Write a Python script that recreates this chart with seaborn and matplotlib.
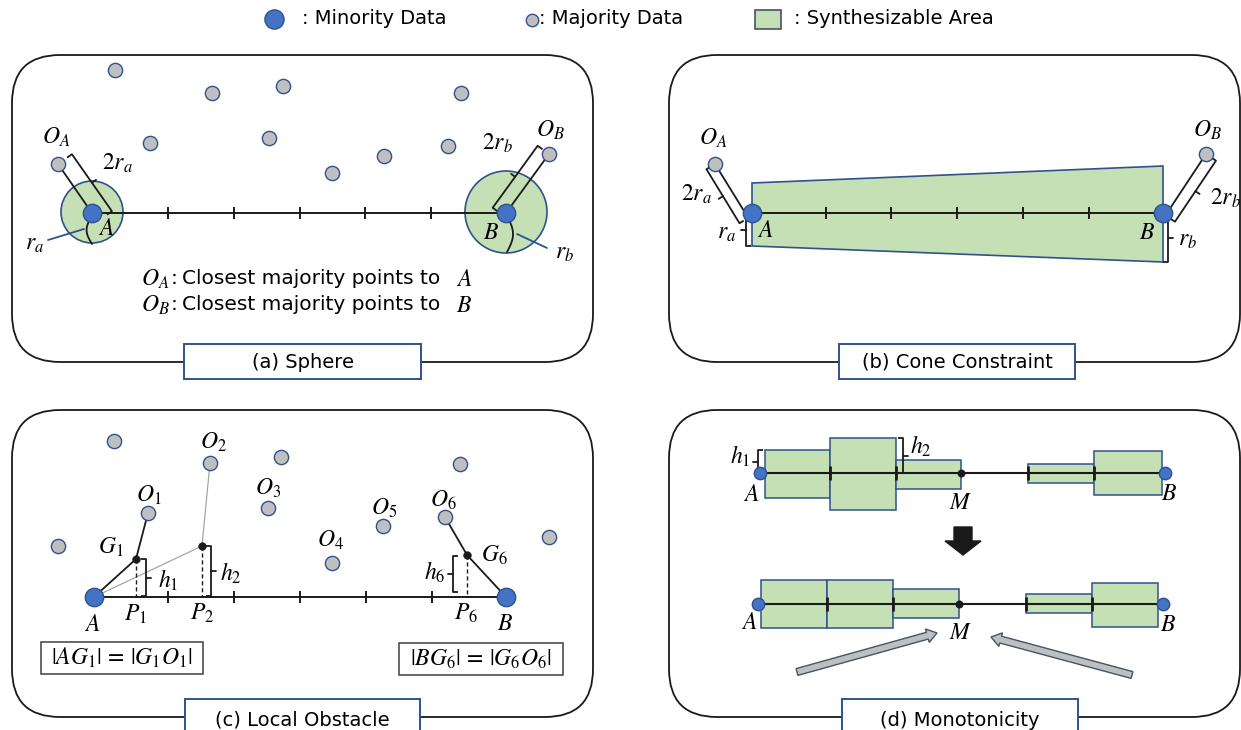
import numpy as np
import pandas as pd
import seaborn as sns
import matplotlib.pyplot as plt
from matplotlib.patches import FancyBboxPatch, Rectangle, Circle, Polygon, FancyArrow

# ---- values (pixel coords, y grows downward) ----
legend_labels = [': Minority Data', ': Majority Data', ': Synthesizable Area']
panel_titles = ['(a) Sphere', '(b) Cone Constraint', '(c) Local Obstacle', '(d) Monotonicity']

# (a) sphere
maj_a_x = [115, 212, 283, 461, 150, 269, 58, 332, 384, 448, 549]
maj_a_y = [70, 93, 86, 93, 143, 138, 164, 173, 156, 146, 154]
min_a_x = [92, 506]
min_a_y = [213, 213]
sphere_r = [31, 41]
ticks_a = [168, 234, 300, 365, 431]

# (b) cone constraint
maj_b_x = [715, 1206]
maj_b_y = [164, 154]
min_b_x = [752, 1163]
min_b_y = [213, 213]
cone_top = [183, 166]
cone_bot = [246, 262]
ticks_b = [826, 891, 957, 1023, 1089]

# (c) local obstacle
maj_c_x = [114, 210, 281, 460, 58, 148, 268, 332, 383, 445, 549]
maj_c_y = [441, 463, 457, 464, 546, 513, 508, 563, 526, 517, 537]
min_c_x = [94, 506]
min_c_y = [597, 597]
g_x = [136, 202, 467]
g_y = [559, 546, 555]
ticks_c = [168, 234, 300, 366, 432]

# (d) monotonicity: segment edges and box extent above / below the line
edges_before = [765, 830, 896, 961, 1028, 1094, 1162]
up_before = [23, 35, 13, 0, 9, 22]
down_before = [25, 37, 16, 0, 10, 22]
edges_after = [761, 827, 893, 959, 1026, 1092, 1158]
up_after = [24, 24, 15, 0, 10, 21]
down_after = [24, 24, 14, 0, 9, 23]

GREEN = '#C5E0B4'
EDGE = '#2F528F'
BLUE = '#4472C4'
GRAY = '#BFBFBF'
MS = 17  # math label size

sns.set_theme(style='white')
plt.rcParams['font.family'] = ['DejaVu Sans']
plt.rcParams['mathtext.fontset'] = 'stix'
plt.rcParams['text.color'] = 'black'

fig = plt.figure(figsize=(12.41, 7.30), dpi=100)
ax = fig.add_axes([0, 0, 1, 1])
ax.set_xlim(0, 1241)
ax.set_ylim(730, 0)
ax.axis('off')


def txt(x, y, s, size=14, **kw):
    ax.text(x, y, s, fontsize=size, ha=kw.pop('ha', 'center'), va=kw.pop('va', 'center'),
            color='black', **kw)


def majority(xs, ys, s=105):
    df = pd.DataFrame({'x': xs, 'y': ys})
    sns.scatterplot(data=df, x='x', y='y', s=s, color=GRAY, edgecolor=EDGE,
                    linewidth=1, ax=ax, zorder=5, legend=False)


def minority(xs, ys, s=175):
    df = pd.DataFrame({'x': xs, 'y': ys})
    sns.scatterplot(data=df, x='x', y='y', s=s, color=BLUE, edgecolor=EDGE,
                    linewidth=1, ax=ax, zorder=6, legend=False)


def bracket(p0, p1, off, cap=5, tick=5, lw=1.3):
    p0 = np.asarray(p0, float)
    p1 = np.asarray(p1, float)
    u = (p1 - p0) / np.hypot(*(p1 - p0))
    n = np.array([-u[1], u[0]])
    s = np.sign(off)
    q0, q1 = p0 + n * off, p1 + n * off
    c0, c1 = q0 - n * s * cap, q1 - n * s * cap
    m = (q0 + q1) / 2
    t = m + n * s * tick
    ax.plot([c0[0], q0[0], q1[0], c1[0]], [c0[1], q0[1], q1[1], c1[1]],
            color='k', lw=lw, zorder=4, solid_capstyle='butt')
    ax.plot([m[0], t[0]], [m[1], t[1]], color='k', lw=lw, zorder=4)


def panel(x0, y0, x1, y1, title, bx0, bx1, by0, by1):
    ax.add_patch(FancyBboxPatch((x0, y0), x1 - x0, y1 - y0,
                                boxstyle='round,pad=0,rounding_size=48',
                                fc='none', ec='k', lw=1.3, zorder=1))
    ax.add_patch(Rectangle((bx0, by0), bx1 - bx0, by1 - by0,
                           fc='white', ec=EDGE, lw=1.4, zorder=2))
    txt((bx0 + bx1) / 2, (by0 + by1) / 2 + 1, title, size=14, zorder=3)


def axis_line(x0, x1, y, ticks, lw=1.4, th=6):
    ax.plot([x0, x1], [y, y], color='k', lw=lw, zorder=3)
    ax.vlines(ticks, y - th, y + th, color='k', lw=lw, zorder=3)


# ---------------- legend ----------------
minority([274], [19], s=190)
txt(302, 19, legend_labels[0], ha='left')
majority([532], [20], s=80)
txt(539, 19, legend_labels[1], ha='left')
ax.add_patch(Rectangle((755, 10), 26, 19, fc=GREEN, ec='#44546A', lw=1.2))
txt(794, 19, legend_labels[2], ha='left')

# ---------------- (a) Sphere ----------------
panel(12, 55, 593, 362, panel_titles[0], 184, 421, 344, 379)
for cx, cy, r in zip(min_a_x, min_a_y, sphere_r):
    ax.add_patch(Circle((cx, cy - 1), r, fc=GREEN, ec=EDGE, lw=1.2, zorder=2))
axis_line(min_a_x[0], min_a_x[1], min_a_y[0], ticks_a)
ax.plot([maj_a_x[6], min_a_x[0]], [maj_a_y[6], min_a_y[0]], color='k', lw=1.3, zorder=3)
ax.plot([maj_a_x[10], min_a_x[1]], [maj_a_y[10], min_a_y[1]], color='k', lw=1.3, zorder=3)
bracket((maj_a_x[6], maj_a_y[6]), (min_a_x[0] + 6, min_a_y[0] + 8), -17, cap=6)
bracket((maj_a_x[10], maj_a_y[10]), (min_a_x[1] - 2, min_a_y[1] + 3), 14, cap=6)
# radius arcs
tt = np.linspace(0, 1, 30)
ax.plot(92 - 9 * np.sin(np.pi * tt) * 0.6, 216 + 28 * tt, color='k', lw=1.3, zorder=4)
ax.plot(507 + 10 * np.sin(np.pi * tt) * 0.6, 216 + 36 * tt, color='k', lw=1.3, zorder=4)
ax.plot([48, 84], [240, 229], color=EDGE, lw=1.3, zorder=4)
ax.plot([517, 547], [234, 248], color=EDGE, lw=1.3, zorder=4)
majority(maj_a_x, maj_a_y)
minority(min_a_x, min_a_y)
txt(56, 137, r'$O_A$', size=MS)
txt(117, 163, r'$2r_a$', size=MS)
txt(550, 130, r'$O_B$', size=MS)
txt(497, 143, r'$2r_b$', size=MS)
txt(35, 243, r'$r_a$', size=MS)
txt(565, 252, r'$r_b$', size=MS)
txt(106, 228, r'$A$', size=MS)
txt(491, 232, r'$B$', size=MS)
for yy, p in [(279, 'A'), (305, 'B')]:
    txt(141, yy, r'$O_%s$' % p, size=MS, ha='left')
    txt(171, yy, ':', size=14.5, ha='left')
    txt(182, yy, 'Closest majority points to', size=14.5, ha='left')
    txt(456, yy, r'$%s$' % p, size=MS, ha='left')

# ---------------- (b) Cone Constraint ----------------
panel(669, 55, 1240, 362, panel_titles[1], 839, 1075, 344, 379)
ax.add_patch(Polygon([(min_b_x[0], cone_top[0]), (min_b_x[1], cone_top[1]),
                      (min_b_x[1], cone_bot[1]), (min_b_x[0], cone_bot[0])],
                     closed=True, fc=GREEN, ec=EDGE, lw=1.2, zorder=2))
axis_line(min_b_x[0], min_b_x[1], min_b_y[0], ticks_b)
ax.plot([maj_b_x[0], 744], [maj_b_y[0], 211], color='k', lw=1.3, zorder=3)
ax.plot([maj_b_x[1], 1169], [maj_b_y[1], 210], color='k', lw=1.3, zorder=3)
bracket((maj_b_x[0], maj_b_y[0]), (748, 218), 10, cap=5)
bracket((maj_b_x[1], maj_b_y[1]), (1165, 215), -12, cap=5)
bracket((min_b_x[0], min_b_y[0]), (min_b_x[0], cone_bot[0]), 6, cap=5)
bracket((min_b_x[1], min_b_y[1]), (min_b_x[1], cone_bot[1]), -5, cap=5)
majority(maj_b_x, maj_b_y)
minority(min_b_x, min_b_y)
txt(713, 138, r'$O_A$', size=MS)
txt(1207, 130, r'$O_B$', size=MS)
txt(696, 194, r'$2r_a$', size=MS)
txt(1225, 198, r'$2r_b$', size=MS)
txt(727, 232, r'$r_a$', size=MS)
txt(1188, 239, r'$r_b$', size=MS)
txt(765, 230, r'$A$', size=MS)
txt(1147, 232, r'$B$', size=MS)

# ---------------- (c) Local Obstacle ----------------
panel(12, 410, 593, 717, panel_titles[2], 185, 420, 699, 740)
axis_line(min_c_x[0], min_c_x[1], min_c_y[0], ticks_c)
ax.plot([min_c_x[0], g_x[0], maj_c_x[5]], [min_c_y[0], g_y[0], maj_c_y[5]], color='k', lw=1.3, zorder=3)
ax.plot([min_c_x[0], g_x[1], maj_c_x[1]], [min_c_y[0], g_y[1], maj_c_y[1]], color='#A6A6A6', lw=0.9, zorder=3)
ax.plot([min_c_x[1], g_x[2], maj_c_x[9]], [min_c_y[1], g_y[2], maj_c_y[9]], color='k', lw=1.3, zorder=3)
ax.vlines(g_x, g_y, min_c_y[0], color='k', lw=1.0, linestyles=(0, (3, 2)), zorder=3)
bracket((g_x[0], g_y[0]), (g_x[0], min_c_y[0] - 1), -10, cap=5)
bracket((g_x[1], g_y[1]), (g_x[1], min_c_y[0] - 1), -9, cap=5)
bracket((g_x[2], g_y[2] + 1), (g_x[2], min_c_y[0] - 5), 14, cap=5)
sns.scatterplot(x=g_x, y=g_y, s=30, color='k', edgecolor='k', ax=ax, zorder=6, legend=False)
majority(maj_c_x, maj_c_y)
minority(min_c_x, min_c_y)
for i, (lx, ly) in enumerate([(149, 495), (213, 442), (268, 488), (330, 540), (384, 508), (443, 500)]):
    txt(lx, ly, r'$O_{%d}$' % (i + 1), size=MS)
txt(111, 547, r'$G_1$', size=MS)
txt(494, 555, r'$G_6$', size=MS)
txt(168, 580, r'$h_1$', size=MS)
txt(231, 573, r'$h_2$', size=MS)
txt(435, 572, r'$h_6$', size=MS)
txt(135, 614, r'$P_1$', size=MS)
txt(202, 613, r'$P_2$', size=MS)
txt(466, 613, r'$P_6$', size=MS)
txt(92, 624, r'$A$', size=MS)
txt(505, 623, r'$B$', size=MS)
ax.add_patch(Rectangle((41, 642), 162, 32, fc='white', ec='#404040', lw=1.1, zorder=2))
ax.add_patch(Rectangle((399, 643), 164, 32, fc='white', ec='#404040', lw=1.1, zorder=2))
txt(122, 658, r'$|AG_1|\,=\,|G_1O_1|$', size=MS, zorder=3)
txt(481, 659, r'$|BG_6|\,=\,|G_6O_6|$', size=MS, zorder=3)

# ---------------- (d) Monotonicity ----------------
panel(669, 410, 1240, 717, panel_titles[3], 842, 1078, 699, 740)


def seg_row(edges, ups, downs, y, a_x, b_x, m_x):
    for x0, x1, u, d in zip(edges[:-1], edges[1:], ups, downs):
        if u + d == 0:
            continue
        ax.add_patch(Rectangle((x0, y - u), x1 - x0, u + d, fc=GREEN, ec=EDGE, lw=1.1, zorder=2))
    ax.plot([a_x, b_x], [y, y], color='k', lw=1.5, zorder=3)
    inner = [e for i, e in enumerate(edges[1:-1], 1) if ups[i - 1] + ups[i] > 0 and i != 3]
    ax.vlines(inner, y - 7, y + 7, color='k', lw=2, zorder=3)
    minority([a_x, b_x], [y, y], s=80)
    sns.scatterplot(x=[m_x], y=[y], s=28, color='k', edgecolor='k', ax=ax, zorder=6, legend=False)


seg_row(edges_before, up_before, down_before, 473, 760, 1165, edges_before[3])
seg_row(edges_after, up_after, down_after, 604, 758, 1163, edges_after[3])
bracket((edges_before[0], 473 - up_before[0]), (edges_before[0], 473), 7, cap=5)
bracket((edges_before[2], 473 - up_before[1]), (edges_before[2], 473), -7, cap=5)
txt(740, 456, r'$h_1$', size=MS)
txt(921, 446, r'$h_2$', size=MS)
txt(751, 494, r'$A$', size=MS)
txt(961, 502, r'$M$', size=MS)
txt(1169, 493, r'$B$', size=MS)
txt(749, 622, r'$A$', size=MS)
txt(961, 632, r'$M$', size=MS)
txt(1168, 624, r'$B$', size=MS)
ax.add_patch(FancyArrow(963, 527, 0, 28, width=18, head_width=36, head_length=14,
                        length_includes_head=True, fc='k', ec='k', zorder=4))
ax.add_patch(FancyArrow(797, 672, 140, -39, width=7, head_width=14, head_length=10,
                        length_includes_head=True, fc=GRAY, ec='#44546A', lw=1, zorder=4))
ax.add_patch(FancyArrow(1132, 675, -141, -38, width=7, head_width=14, head_length=10,
                        length_includes_head=True, fc=GRAY, ec='#44546A', lw=1, zorder=4))

fig.savefig('out.png', dpi=100)
